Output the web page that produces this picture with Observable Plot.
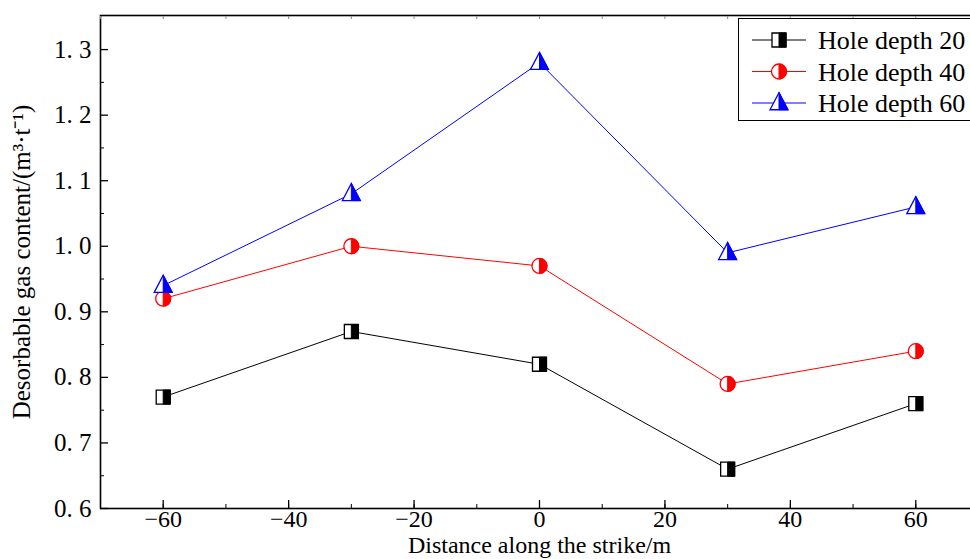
<!DOCTYPE html>
<html>
<head>
<meta charset="utf-8">
<script src="https://cdn.jsdelivr.net/npm/d3@7"></script>
<script src="https://cdn.jsdelivr.net/npm/@observablehq/plot@0.6"></script>
<style>
  html, body { margin: 0; padding: 0; background: #fff; overflow: hidden; }
  #wrap { position: relative; width: 970px; height: 559px; overflow: hidden; }
  #wrap svg { max-width: none !important; display: block; }
  #legend { position: absolute; left: 0; top: 0; }
</style>
</head>
<body>
<div id="wrap"></div>
<script>
// ---- data ----
const distances = [-60, -30, 0, 30, 60];
const depth20 = [0.77, 0.87, 0.82, 0.66, 0.76];
const depth40 = [0.92, 1.00, 0.97, 0.79, 0.84];
const depth60 = [0.94, 1.08, 1.28, 0.99, 1.06];
const seriesNames = ["Hole depth 20", "Hole depth 40", "Hole depth 60"];
const seriesColors = ["#000000", "#ff0000", "#0000ff"];
const xTicks = [-60, -40, -20, 0, 20, 40, 60];
const yTicks = [0.6, 0.7, 0.8, 0.9, 1.0, 1.1, 1.2, 1.3];

const seriesValues = [depth20, depth40, depth60];

// ---- symbols (half filled on right side) ----
function rOf(size) { return Math.sqrt(size / Math.PI); }
const squareFull = {draw(c, s) { const r = rOf(s); c.moveTo(-r, -r); c.lineTo(r, -r); c.lineTo(r, r); c.lineTo(-r, r); c.closePath(); }};
const squareHalf = {draw(c, s) { const r = rOf(s); c.moveTo(0, -r); c.lineTo(r, -r); c.lineTo(r, r); c.lineTo(0, r); c.closePath(); }};
const circleFull = {draw(c, s) { const r = rOf(s); c.moveTo(r, 0); c.arc(0, 0, r, 0, 2 * Math.PI); c.closePath(); }};
const circleHalf = {draw(c, s) { const r = rOf(s); c.moveTo(0, -r); c.arc(0, 0, r, -Math.PI / 2, Math.PI / 2); c.closePath(); }};
const triFull = {draw(c, s) { const r = rOf(s); c.moveTo(0, -1.15 * r); c.lineTo(r, 0.75 * r); c.lineTo(-r, 0.75 * r); c.closePath(); }};
const triHalf = {draw(c, s) { const r = rOf(s); c.moveTo(0, -1.15 * r); c.lineTo(r, 0.75 * r); c.lineTo(0, 0.75 * r); c.closePath(); }};
const fullSyms = [squareFull, circleFull, triFull];
const halfSyms = [squareHalf, circleHalf, triHalf];
const symR = [7, 7.5, 9];

const data = seriesNames.flatMap((name, i) =>
  distances.map((d, j) => ({series: name, idx: i, x: d, y: seriesValues[i][j]})));

const font = "'Liberation Serif', 'Times New Roman', serif";

const marks = [
  Plot.frame({stroke: "#000", strokeWidth: 1.6}),
  Plot.axisX({ticks: xTicks, tickSize: -8, tickFormat: () => "", label: null, strokeWidth: 1.3}),
  Plot.axisX({ticks: d3.range(-70, 71, 10), tickSize: -4, tickFormat: () => "", label: null, strokeWidth: 1}),
  Plot.axisX({ticks: xTicks, tickSize: 0, tickPadding: 1, fontSize: 24, label: null}),
  Plot.axisX({ticks: [], tickSize: 0, fontSize: 24,
    label: "Distance along the strike/m", labelAnchor: "center", labelArrow: "none", labelOffset: 44}),
  Plot.axisX({anchor: "top", ticks: d3.range(-70, 71, 10), tickSize: -3, tickFormat: () => "", label: null, stroke: "#888", strokeWidth: 1}),
  Plot.axisY({ticks: yTicks, tickSize: -8, tickFormat: () => "", label: null, strokeWidth: 1.3}),
  Plot.axisY({ticks: d3.range(0.65, 1.35, 0.1), tickSize: -4, tickFormat: () => "", label: null, strokeWidth: 1}),
  Plot.axisY({ticks: yTicks, tickSize: 0, tickPadding: 9, fontSize: 25,
    tickFormat: d => d.toFixed(1).replace(".", ". "),
    label: "Desorbable gas content/(m³·t⁻¹)", labelAnchor: "center", labelArrow: "none", labelOffset: 88}),
];

seriesNames.forEach((name, i) => {
  const sub = data.filter(d => d.idx === i);
  marks.push(Plot.line(sub, {x: "x", y: "y", stroke: seriesColors[i], strokeWidth: 1}));
});
seriesNames.forEach((name, i) => {
  const sub = data.filter(d => d.idx === i);
  marks.push(Plot.dot(sub, {x: "x", y: "y", symbol: fullSyms[i], r: symR[i], fill: "#fff", stroke: seriesColors[i], strokeWidth: 1.3}));
  marks.push(Plot.dot(sub, {x: "x", y: "y", symbol: halfSyms[i], r: symR[i], fill: seriesColors[i], stroke: seriesColors[i], strokeWidth: 1}));
});

const chart = Plot.plot({
  width: 990,
  height: 559,
  marginLeft: 100,
  marginRight: 12,
  marginTop: 15,
  marginBottom: 51,
  style: {fontFamily: font, fontSize: "25px", color: "#000", background: "#fff", overflow: "visible", maxWidth: "none"},
  x: {domain: [-70, 70]},
  y: {domain: [0.6, 1.352]},
  marks
});
document.getElementById("wrap").appendChild(chart);

// ---- legend overlay ----
const ns = "http://www.w3.org/2000/svg";
const leg = document.createElementNS(ns, "svg");
leg.setAttribute("id", "legend");
leg.setAttribute("width", 970);
leg.setAttribute("height", 140);
leg.style.fontFamily = font;
const box = document.createElementNS(ns, "rect");
box.setAttribute("x", 738.5); box.setAttribute("y", 18.5);
box.setAttribute("width", 260); box.setAttribute("height", 102);
box.setAttribute("fill", "#fff"); box.setAttribute("stroke", "#000"); box.setAttribute("stroke-width", 1);
leg.appendChild(box);
seriesNames.forEach((name, i) => {
  const cy = 40 + i * 31.5;
  const line = document.createElementNS(ns, "line");
  line.setAttribute("x1", 752); line.setAttribute("x2", 806);
  line.setAttribute("y1", cy); line.setAttribute("y2", cy);
  line.setAttribute("stroke", seriesColors[i]); line.setAttribute("stroke-width", 1.2);
  leg.appendChild(line);
  const size = symR[i] * symR[i] * Math.PI;
  [[fullSyms[i], "#fff", 1.3], [halfSyms[i], seriesColors[i], 1]].forEach(([sym, fill, sw]) => {
    const p = d3.path(); sym.draw(p, size);
    const el = document.createElementNS(ns, "path");
    el.setAttribute("d", p.toString());
    el.setAttribute("transform", `translate(779,${cy})`);
    el.setAttribute("fill", fill); el.setAttribute("stroke", seriesColors[i]); el.setAttribute("stroke-width", sw);
    leg.appendChild(el);
  });
  const t = document.createElementNS(ns, "text");
  t.setAttribute("x", 818); t.setAttribute("y", cy + 9);
  t.setAttribute("font-size", 26);
  t.textContent = name;
  leg.appendChild(t);
});
document.getElementById("wrap").appendChild(leg);
</script>
</body>
</html>
